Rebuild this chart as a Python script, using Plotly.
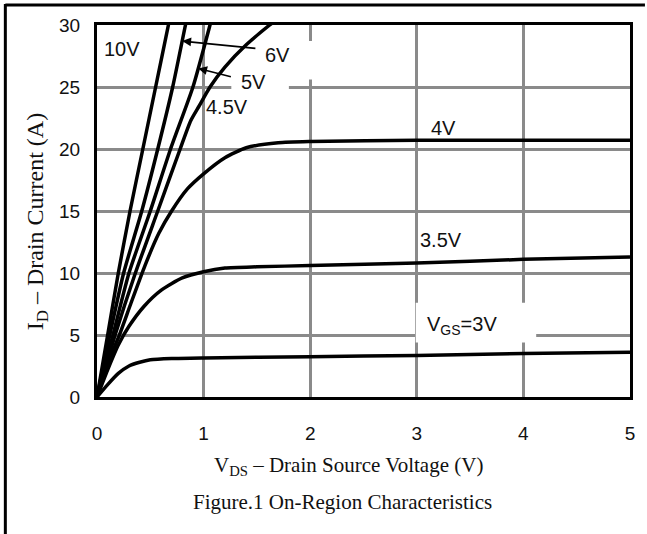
import plotly.graph_objects as go

# Output characteristics: drain current I_D (A) versus drain-source voltage V_DS (V)
vds_10v = [0, 0.10, 0.20, 0.31, 0.43, 0.55, 0.67, 0.72]
id_10v = [0, 5, 10, 15, 20, 25, 30, 32]

vds_6v = [0, 0.12, 0.25, 0.42, 0.57, 0.71, 0.83, 0.88]
id_6v = [0, 5, 10, 15, 20, 25, 30, 32]

vds_5v = [0, 0.15, 0.30, 0.50, 0.69, 0.90, 1.06, 1.12]
id_5v = [0, 5, 10, 15, 20, 25, 30, 32]

vds_45v = [0, 0.17, 0.36, 0.57, 0.78, 0.88, 0.96, 1.06, 1.20, 1.40, 1.62, 1.85]
id_45v = [0, 5, 10, 15, 20, 22.3, 23.5, 25, 26.6, 28.4, 30, 31.5]

vds_4v = [0, 0.10, 0.21, 0.32, 0.45, 0.58, 0.70, 0.85, 1.00, 1.20, 1.40, 1.70, 2.0, 3.0, 4.0, 5.0]
id_4v = [0, 2.7, 5.0, 7.6, 10.6, 13.2, 15.0, 16.8, 18.0, 19.3, 20.1, 20.5, 20.6, 20.7, 20.7, 20.7]

vds_35v = [0, 0.10, 0.20, 0.30, 0.44, 0.60, 0.80, 1.00, 1.20, 1.50, 2.0, 3.0, 4.0, 5.0]
id_35v = [0, 2.2, 4.2, 5.7, 7.3, 8.6, 9.6, 10.1, 10.4, 10.5, 10.6, 10.8, 11.1, 11.3]

vds_3v = [0, 0.10, 0.20, 0.30, 0.40, 0.50, 0.70, 1.0, 2.0, 3.0, 4.0, 5.0]
id_3v = [0, 1.0, 1.9, 2.5, 2.8, 3.0, 3.1, 3.15, 3.25, 3.35, 3.5, 3.6]

x_ticks = [0, 1, 2, 3, 4, 5]
y_ticks = [0, 5, 10, 15, 20, 25, 30]

curves = [
    ("10V", vds_10v, id_10v),
    ("6V", vds_6v, id_6v),
    ("5V", vds_5v, id_5v),
    ("4.5V", vds_45v, id_45v),
    ("4V", vds_4v, id_4v),
    ("3.5V", vds_35v, id_35v),
    ("3V", vds_3v, id_3v),
]

W, H = 647, 534
L, R, T, B = 97, 15, 25, 137
PW, PH = W - L - R, H - T - B


def px(xp):
    return (xp - L) / PW


def py(yp):
    return (H - B - yp) / PH


fig = go.Figure()
for name, xs, ys in curves:
    fig.add_trace(go.Scatter(
        x=xs, y=ys, mode="lines", name=name, showlegend=False,
        line=dict(color="black", width=3.5, shape="spline", smoothing=0.6),
        hoverinfo="skip",
    ))

label_font = dict(family="Liberation Sans, Arial", size=20, color="#111")
serif = dict(family="Liberation Serif, Times New Roman", size=21, color="#111")
serif_y = dict(family="Liberation Serif, Times New Roman", size=24, color="#111")

annotations = [
    dict(x=0.23, y=28.1, text="10V", showarrow=False),
    dict(x=1.69, y=27.6, text="6V", showarrow=False),
    dict(x=1.47, y=25.4, text="5V", showarrow=False),
    dict(x=1.22, y=23.4, text="4.5V", showarrow=False),
    dict(x=3.25, y=21.7, text="4V", showarrow=False),
    dict(x=3.23, y=12.7, text="3.5V", showarrow=False),
    dict(x=3.42, y=5.8, text="V<sub>GS</sub>=3V", showarrow=False),
]
for a in annotations:
    a.update(xref="x", yref="y", font=label_font)

# pointer arrows for the 6V and 5V curves
annotations += [
    dict(x=0.80, y=28.7, ax=1.50, ay=28.1, xref="x", yref="y", axref="x", ayref="y",
         text="", showarrow=True, arrowhead=2, arrowsize=1.1, arrowwidth=1.6,
         arrowcolor="black"),
    dict(x=0.95, y=26.5, ax=1.27, ay=25.8, xref="x", yref="y", axref="x", ayref="y",
         text="", showarrow=True, arrowhead=2, arrowsize=1.1, arrowwidth=1.6,
         arrowcolor="black"),
]

annotations += [
    dict(xref="paper", yref="paper", x=px(349), y=py(466), showarrow=False,
         text="V<sub>DS</sub> – Drain Source Voltage (V)", font=serif,
         xanchor="center", yanchor="middle"),
    dict(xref="paper", yref="paper", x=px(343), y=py(502), showarrow=False,
         text="Figure.1 On-Region Characteristics", font=serif,
         xanchor="center", yanchor="middle"),
    dict(xref="paper", yref="paper", x=px(37), y=py(222), showarrow=False,
         text="I<sub>D</sub> – Drain Current (A)", font=serif_y, textangle=-90,
         xanchor="center", yanchor="middle"),
]

shapes = [
    # white backing boxes behind the labels (hide the grid)
    dict(type="rect", xref="x", yref="y", x0=1.48, x1=2.06, y0=25.6, y1=28.7,
         fillcolor="white", line=dict(width=0), layer="between"),
    dict(type="rect", xref="x", yref="y", x0=1.26, x1=1.80, y0=24.0, y1=26.3,
         fillcolor="white", line=dict(width=0), layer="between"),
    dict(type="rect", xref="x", yref="y", x0=2.99, x1=4.12, y0=4.4, y1=7.6,
         fillcolor="white", line=dict(width=0), layer="between"),
    # page frame
    dict(type="line", xref="paper", yref="paper", x0=px(5), x1=px(647),
         y0=py(5), y1=py(5), line=dict(color="black", width=3)),
    dict(type="line", xref="paper", yref="paper", x0=px(5), x1=px(5),
         y0=py(4), y1=py(534), line=dict(color="black", width=3)),
]

axis_common = dict(
    showgrid=True, gridcolor="#8a8a8a", gridwidth=3,
    showline=True, linecolor="black", linewidth=3, mirror=True,
    zeroline=False, ticks="",
    tickfont=dict(family="Liberation Sans, Arial", size=19, color="#111"),
)

fig.update_layout(
    width=W, height=H,
    margin=dict(l=L, r=R, t=T, b=B),
    paper_bgcolor="white", plot_bgcolor="white",
    xaxis=dict(range=[0, 5], tickvals=x_ticks, ticklabelstandoff=17, **axis_common),
    yaxis=dict(range=[0, 30], tickvals=y_ticks, ticklabelstandoff=10, **axis_common),
    annotations=annotations,
    shapes=shapes,
)

fig.write_html("out.html")
